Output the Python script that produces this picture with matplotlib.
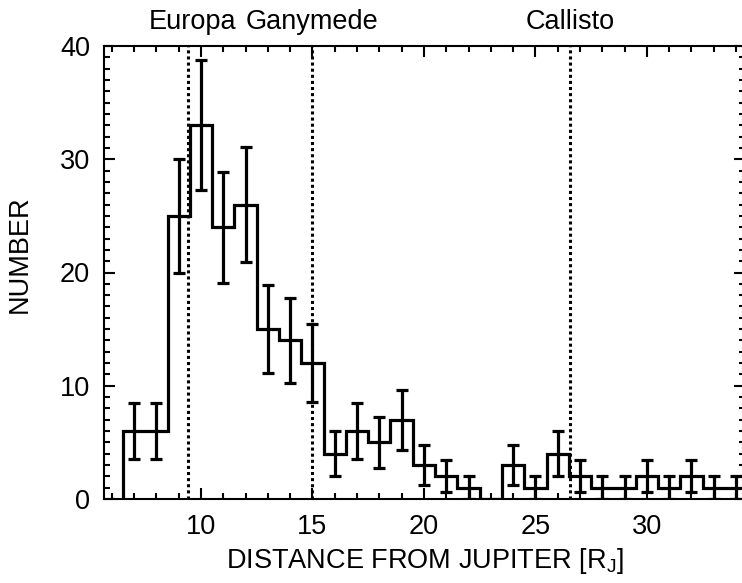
import matplotlib
matplotlib.use("Agg")
import matplotlib.pyplot as plt
import matplotlib.transforms as mtransforms
from matplotlib.ticker import MultipleLocator
import numpy as np

plt.rcParams['font.family'] = ['Liberation Sans', 'DejaVu Sans']
plt.rcParams['mathtext.fontset'] = 'custom'
plt.rcParams['mathtext.rm'] = 'Liberation Sans'
plt.rcParams['mathtext.it'] = 'Liberation Sans:italic'

# histogram: one bin per R_J, centred on the integers
bin_centers = np.arange(7, 35)
counts = np.array([6, 6, 25, 33, 24, 26, 15, 14, 12, 4, 6, 5, 7, 3,
                   2, 1, 0, 3, 1, 4, 2, 1, 1, 2, 1, 2, 1, 1])

# moon orbits (R_J), as drawn in the figure
moon_names = ["Europa", "Ganymede", "Callisto"]
moon_dist = [9.4, 15.0, 26.55]
label_x = [9.6, 15.0, 26.55]

fs = 19.5

fig = plt.figure(figsize=(7.42, 5.83), dpi=100)
ax = fig.add_axes([104 / 742, 84 / 583, 641 / 742, 453 / 583])

edges = np.append(bin_centers - 0.5, bin_centers[-1] + 0.5)
ax.stairs(counts, edges, color="k", lw=2.3, baseline=0)

err = np.sqrt(counts)
m = counts > 0
ax.errorbar(bin_centers[m], counts[m], yerr=err[m], fmt="none", ecolor="k",
            elinewidth=2.3, capsize=4, capthick=2.3)

trans = mtransforms.blended_transform_factory(ax.transData, ax.transAxes)
for name, d, lx in zip(moon_names, moon_dist, label_x):
    ax.axvline(d, color="k", lw=2.2, ls=(0, (1, 1)))
    ax.text(lx, 1.053, name, transform=trans, ha="center", va="center",
            fontsize=fs)

ax.set_xlim(5.65, 34.4)
ax.set_ylim(0, 40)
ax.xaxis.set_major_locator(MultipleLocator(5))
ax.xaxis.set_minor_locator(MultipleLocator(1))
ax.yaxis.set_major_locator(MultipleLocator(10))
ax.yaxis.set_minor_locator(MultipleLocator(1))
ax.tick_params(which="both", direction="in", top=True, right=True,
               width=1.5, labelsize=fs)
ax.tick_params(which="major", length=8)
ax.tick_params(which="minor", length=4)
ax.tick_params(axis="x", pad=10.5)
ax.tick_params(axis="y", pad=10)
for s in ax.spines.values():
    s.set_linewidth(1.5)

ax.set_xlabel(r"DISTANCE FROM JUPITER [R$_\mathrm{J}$]", fontsize=fs)
ax.set_ylabel("NUMBER", fontsize=fs)
ax.xaxis.label.set_va("center")
ax.yaxis.label.set_va("center")
ax.xaxis.set_label_coords(0.5, -0.137)
ax.yaxis.set_label_coords(-0.131, 0.54)

fig.savefig("out.png", dpi=100)
